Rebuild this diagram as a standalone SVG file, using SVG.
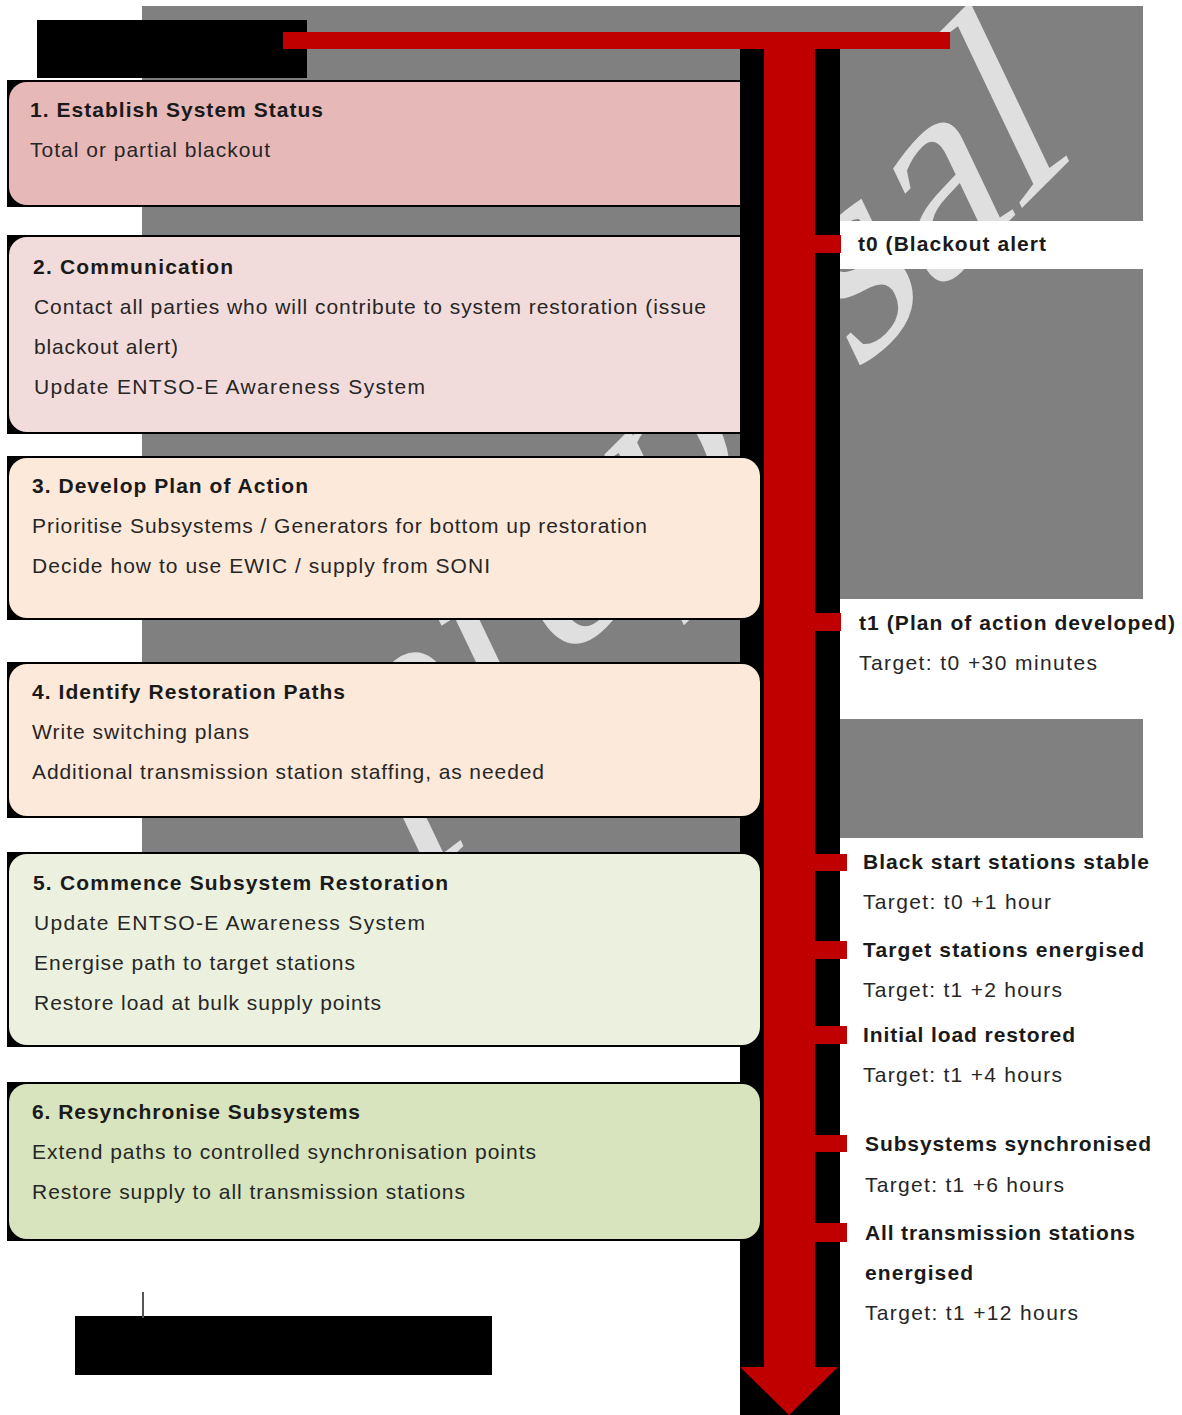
<svg xmlns="http://www.w3.org/2000/svg" width="1182" height="1415" viewBox="0 0 1182 1415">
<style>
.t{font-family:"Liberation Sans",Arial,sans-serif;font-size:21px;font-weight:bold;fill:#1a1a1a}
.b{font-family:"Liberation Sans",Arial,sans-serif;font-size:21px;fill:#262626}
.edge{fill:#000}
.red{fill:#C00000}
.wm{font-family:"Liberation Serif","Times New Roman",serif;font-size:280px;fill:#DFDFDF}
</style>
<defs>
<clipPath id="grayClip"><rect x="142" y="6" width="1001" height="846"/></clipPath>
</defs>
<rect x="0" y="0" width="1182" height="1415" fill="#fff"/>
<g id="background">
<rect x="142" y="6" width="1001" height="846" fill="#808080"/>
<g clip-path="url(#grayClip)">
<text class="wm" text-anchor="end" transform="matrix(0.707,-0.707,0.43,0.9,1073,157)">proposal</text>
</g>
<rect x="840" y="221" width="342" height="48" fill="#fff"/>
<rect x="840" y="599" width="342" height="120" fill="#fff"/>
<rect x="840" y="838" width="342" height="20" fill="#fff"/>
<rect x="37" y="20" width="270" height="58" fill="#000"/>
<rect x="75" y="1316" width="417" height="59" fill="#000"/>
<line x1="143" y1="1292" x2="143" y2="1318" stroke="#555" stroke-width="2"/>
</g>
<g id="step1">
<rect class="edge" x="7" y="80" width="740" height="127"/>
<rect x="9" y="82" width="760" height="123" rx="18" fill="#E6B9B8"/>
</g>
<g id="step2">
<rect class="edge" x="7" y="235" width="740" height="199"/>
<rect x="9" y="237" width="760" height="195" rx="18" fill="#F2DCDB"/>
</g>
<g id="connectors">
<rect x="740" y="49" width="100" height="1366" fill="#000"/>
<rect class="red" x="283" y="32" width="667" height="17"/>
<rect class="red" x="764" y="32" width="51" height="1336"/>
<polygon class="red" points="740,1367 838,1367 789,1415"/>
<rect class="red" x="815" y="235" width="26" height="18"/>
<rect class="red" x="815" y="613" width="26" height="18"/>
<rect class="red" x="815" y="854" width="32" height="17"/>
<rect class="red" x="815" y="941" width="32" height="18"/>
<rect class="red" x="815" y="1026" width="32" height="18"/>
<rect class="red" x="815" y="1135" width="32" height="17"/>
<rect class="red" x="815" y="1223" width="32" height="19"/>
</g>
<g id="step3">
<rect class="edge" x="7" y="456" width="740" height="164"/>
<rect x="9" y="458" width="751" height="160" rx="18" fill="#FDE9D9"/>
</g>
<g id="step4">
<rect class="edge" x="7" y="662" width="740" height="156"/>
<rect x="9" y="664" width="751" height="152" rx="18" fill="#FDE9D9"/>
</g>
<g id="step5">
<rect class="edge" x="7" y="852" width="740" height="195"/>
<rect x="9" y="854" width="751" height="191" rx="18" fill="#EBF1DE"/>
</g>
<g id="step6">
<rect class="edge" x="7" y="1082" width="740" height="159"/>
<rect x="9" y="1084" width="751" height="155" rx="18" fill="#D7E4BD"/>
</g>
<g id="step1-text">
<text class="t" x="30" y="117" textLength="293" lengthAdjust="spacing">1. Establish System Status</text>
<text class="b" x="30" y="157" textLength="240" lengthAdjust="spacing">Total or partial blackout</text>
</g>
<g id="step2-text">
<text class="t" x="33" y="274" textLength="200" lengthAdjust="spacing">2. Communication</text>
<text class="b" x="34" y="314" textLength="672" lengthAdjust="spacing">Contact all parties who will contribute to system restoration (issue</text>
<text class="b" x="34" y="354" textLength="144" lengthAdjust="spacing">blackout alert)</text>
<text class="b" x="34" y="394" textLength="391" lengthAdjust="spacing">Update ENTSO-E Awareness System</text>
</g>
<g id="step3-text">
<text class="t" x="32" y="493" textLength="276" lengthAdjust="spacing">3. Develop Plan of Action</text>
<text class="b" x="32" y="533" textLength="615" lengthAdjust="spacing">Prioritise Subsystems / Generators for bottom up restoration</text>
<text class="b" x="32" y="573" textLength="458" lengthAdjust="spacing">Decide how to use EWIC / supply from SONI</text>
</g>
<g id="step4-text">
<text class="t" x="32" y="699" textLength="313" lengthAdjust="spacing">4. Identify Restoration Paths</text>
<text class="b" x="32" y="739" textLength="217" lengthAdjust="spacing">Write switching plans</text>
<text class="b" x="32" y="779" textLength="512" lengthAdjust="spacing">Additional transmission station staffing, as needed</text>
</g>
<g id="step5-text">
<text class="t" x="33" y="890" textLength="415" lengthAdjust="spacing">5. Commence Subsystem Restoration</text>
<text class="b" x="34" y="930" textLength="391" lengthAdjust="spacing">Update ENTSO-E Awareness System</text>
<text class="b" x="34" y="970" textLength="321" lengthAdjust="spacing">Energise path to target stations</text>
<text class="b" x="34" y="1010" textLength="347" lengthAdjust="spacing">Restore load at bulk supply points</text>
</g>
<g id="step6-text">
<text class="t" x="32" y="1119" textLength="328" lengthAdjust="spacing">6. Resynchronise Subsystems</text>
<text class="b" x="32" y="1159" textLength="504" lengthAdjust="spacing">Extend paths to controlled synchronisation points</text>
<text class="b" x="32" y="1199" textLength="433" lengthAdjust="spacing">Restore supply to all transmission stations</text>
</g>
<g id="milestone-t0">
<text class="t" x="858" y="251" textLength="188" lengthAdjust="spacing">t0 (Blackout alert</text>
</g>
<g id="milestone-t1">
<text class="t" x="859" y="630" textLength="316" lengthAdjust="spacing">t1 (Plan of action developed)</text>
<text class="b" x="859" y="670" textLength="238" lengthAdjust="spacing">Target: t0 +30 minutes</text>
</g>
<g id="milestone-blackstart">
<text class="t" x="863" y="869" textLength="286" lengthAdjust="spacing">Black start stations stable</text>
<text class="b" x="863" y="909" textLength="188" lengthAdjust="spacing">Target: t0 +1 hour</text>
</g>
<g id="milestone-target">
<text class="t" x="863" y="957" textLength="281" lengthAdjust="spacing">Target stations energised</text>
<text class="b" x="863" y="997" textLength="199" lengthAdjust="spacing">Target: t1 +2 hours</text>
</g>
<g id="milestone-load">
<text class="t" x="863" y="1042" textLength="212" lengthAdjust="spacing">Initial load restored</text>
<text class="b" x="863" y="1082" textLength="199" lengthAdjust="spacing">Target: t1 +4 hours</text>
</g>
<g id="milestone-sync">
<text class="t" x="865" y="1151" textLength="286" lengthAdjust="spacing">Subsystems synchronised</text>
<text class="b" x="865" y="1192" textLength="199" lengthAdjust="spacing">Target: t1 +6 hours</text>
</g>
<g id="milestone-all">
<text class="t" x="865" y="1240" textLength="270" lengthAdjust="spacing">All transmission stations</text>
<text class="t" x="865" y="1280" textLength="108" lengthAdjust="spacing">energised</text>
<text class="b" x="865" y="1320" textLength="213" lengthAdjust="spacing">Target: t1 +12 hours</text>
</g>
</svg>
